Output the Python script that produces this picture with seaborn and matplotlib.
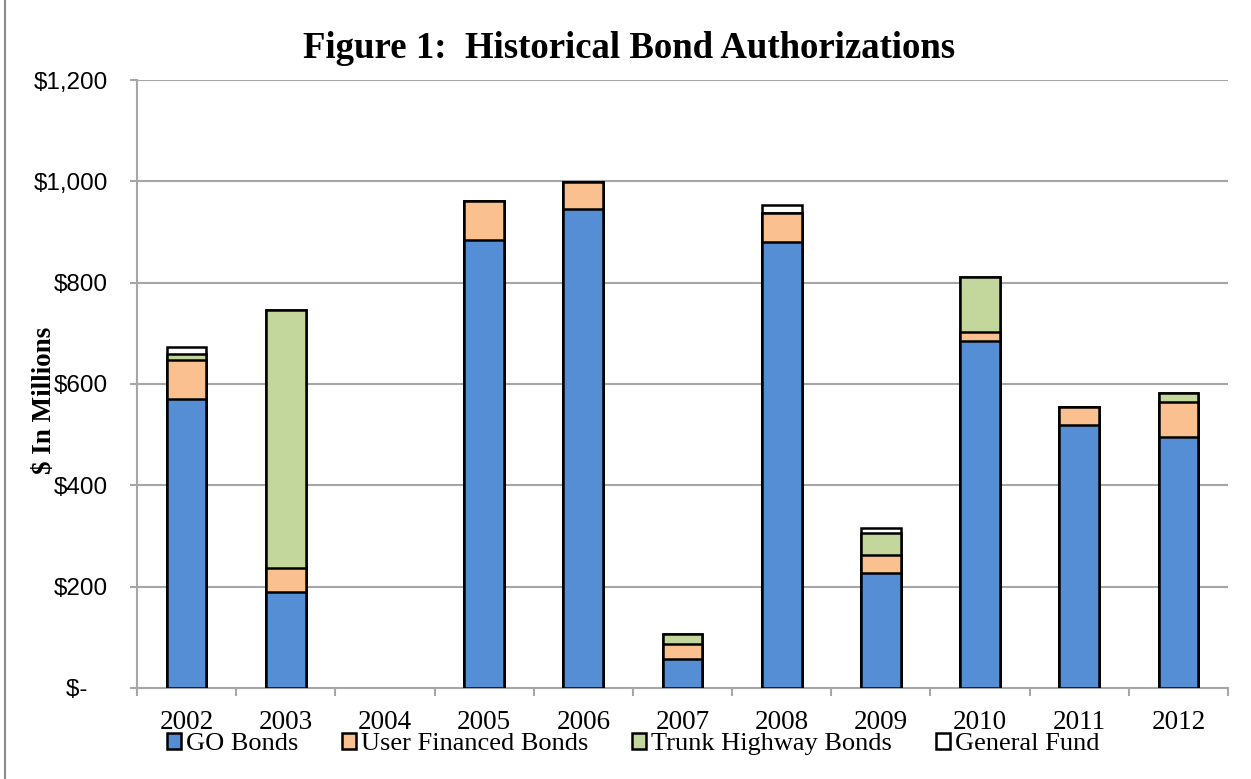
import pandas as pd
import matplotlib.pyplot as plt
import seaborn as sns
from matplotlib.patches import Patch, Rectangle
from matplotlib.ticker import FuncFormatter

years = ["2002", "2003", "2004", "2005", "2006", "2007", "2008", "2009", "2010", "2011", "2012"]
go_bonds = [570, 189, 0, 884, 946, 57, 881, 227, 685, 520, 496]
user_financed = [77, 48, 0, 77, 52, 29, 56, 35, 18, 35, 69]
trunk_highway = [12, 509, 0, 0, 0, 20, 0, 43, 108, 0, 18]
general_fund = [14, 0, 0, 0, 0, 0, 16, 11, 0, 0, 0]

series_names = ["GO Bonds", "User Financed Bonds", "Trunk Highway Bonds", "General Fund"]
colors = ["#558ED5", "#FAC090", "#C3D69B", "#FFFFFF"]

df = pd.DataFrame({
    "year": years,
    "GO Bonds": go_bonds,
    "User Financed Bonds": user_financed,
    "Trunk Highway Bonds": trunk_highway,
    "General Fund": general_fund,
})
# cumulative tops, drawn from the highest layer down so lower segments overlap
cum = df[series_names].cumsum(axis=1)
cum["year"] = df["year"]

sns.set_theme(style="white")
plt.rcParams["font.family"] = ["Liberation Serif", "DejaVu Serif"]
plt.rcParams["text.color"] = "black"
plt.rcParams["xtick.labelcolor"] = "black"
plt.rcParams["ytick.labelcolor"] = "black"

fig = plt.figure(figsize=(12.51, 7.79), dpi=100)
ax = fig.add_axes([137 / 1251, 1 - 688 / 779, (1228 - 137) / 1251, (688 - 80) / 779])

for name, color in reversed(list(zip(series_names, colors))):
    sns.barplot(data=cum, x="year", y=name, order=years, color=color, saturation=1,
                width=0.4, edgecolor="black", linewidth=1.8, errorbar=None, ax=ax, zorder=3)

for p in ax.patches:
    if p.get_height() == 0:
        p.set_visible(False)

ax.set_xlim(-0.5, len(years) - 0.5)
ax.set_ylim(0, 1200)
ax.set_yticks(range(0, 1201, 200))
ax.yaxis.set_major_formatter(FuncFormatter(lambda v, pos: "$-   " if v == 0 else f"${v:,.0f}"))
ax.grid(axis="y", color="#A6A6A6", linewidth=1.5, zorder=0)
ax.set_axisbelow(True)

for side in ["top", "right"]:
    ax.spines[side].set_visible(False)
for side in ["left", "bottom"]:
    ax.spines[side].set_color("#A6A6A6")
    ax.spines[side].set_linewidth(1.5)

ax.set_xticks(range(len(years)))
ax.set_xticklabels(years)
ax.set_xticks([i - 0.5 for i in range(len(years) + 1)], minor=True)
ax.tick_params(axis="x", which="major", length=0, pad=16, labelsize=19.5, labelcolor="black")
ax.tick_params(axis="x", which="minor", length=6, width=1.5, color="#A6A6A6", direction="out", bottom=True)
ax.tick_params(axis="y", length=5, width=1.5, color="#A6A6A6", direction="out", left=True, pad=16,
               labelcolor="black")
for lab in ax.get_yticklabels():
    lab.set_family(["Liberation Sans", "DejaVu Sans"])
    lab.set_fontsize(17.5)
ax.set_xlabel("")
ax.set_ylabel("")

fig.text(0.503, 0.938, "Figure 1:  Historical Bond Authorizations", ha="center", va="center",
         fontsize=26.5, fontweight="bold", color="black")
fig.text(45 / 1251, 1 - 400 / 779, "$ In Millions", rotation=90, ha="center", va="center",
         fontsize=19.5, fontweight="bold", color="black")

handles = [Patch(facecolor=c, edgecolor="black", linewidth=1.8) for c in colors]
fig.legend(handles, series_names, loc="center", bbox_to_anchor=(633 / 1251, 1 - 744 / 779),
           ncol=4, frameon=False, fontsize=19, handlelength=0.55, handleheight=0.55,
           handletextpad=0.18, columnspacing=1.65, borderpad=0, labelcolor="black")

fig.patches.append(Rectangle((5 / 1251, -0.2), 1.2, 1.2 + 1 - 2 / 779, transform=fig.transFigure,
                             fill=False, edgecolor="#8C8C8C", linewidth=1.5))

plt.savefig("out.png", dpi=100)
